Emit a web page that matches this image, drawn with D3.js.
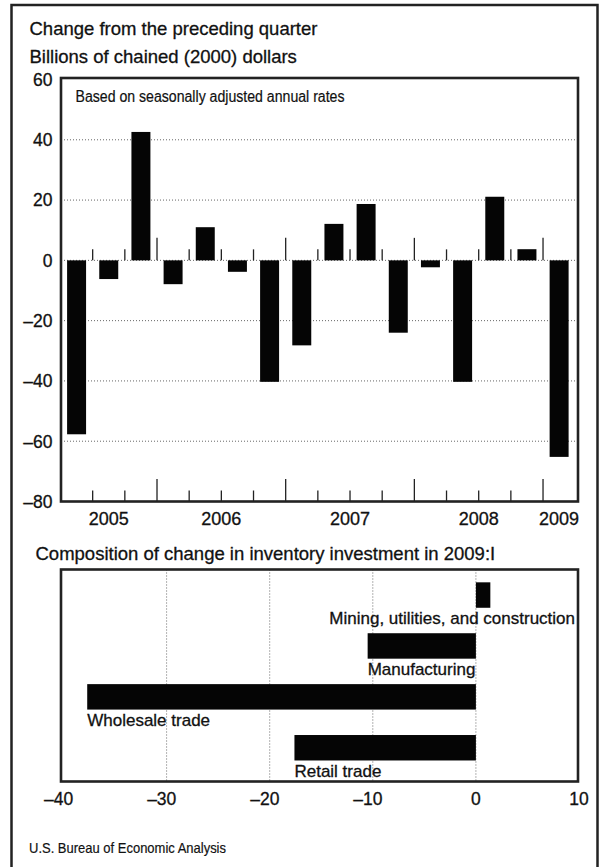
<!DOCTYPE html>
<html>
<head>
<meta charset="utf-8">
<script src="https://cdn.jsdelivr.net/npm/d3@7"></script>
<style>
  html, body { margin: 0; padding: 0; background: #fff; }
  svg { display: block; }
  text { font-family: "Liberation Sans", Arial, Helvetica, sans-serif; fill: #111; stroke: #111; stroke-width: 0.3px; }
  .narrow { font-family: "Liberation Sans Narrow", "Liberation Sans", Arial, sans-serif; stroke-width: 0.2px; }
</style>
</head>
<body>
<svg id="chart" width="600" height="867"></svg>
<script>
// ---------- data ----------
const quarters = ["2005:II","2005:III","2005:IV",
  "2006:I","2006:II","2006:III","2006:IV",
  "2007:I","2007:II","2007:III","2007:IV",
  "2008:I","2008:II","2008:III","2008:IV",
  "2009:I"];
const changes = [-57.7, -6.2, 42.6, -7.9, 11.0, -3.8, -40.3, -28.2,
  12.1, 18.7, -24.0, -2.3, -40.3, 21.1, 3.7, -65.2];
const yTicks = [60, 40, 20, 0, -20, -40, -60, -80];
const yGrid = [40, 20, 0, -20, -40, -60];

const components = ["Mining, utilities, and construction", "Manufacturing", "Wholesale trade", "Retail trade"];
const componentValues = [1.4, -10.5, -37.7, -17.6];
const xTicks = [-40, -30, -20, -10, 0, 10];
const xGrid = [-30, -20, -10, 0];

// ---------- setup ----------
const svg = d3.select("#chart");
const ink = "#050505";
const fmt = v => (v < 0 ? "\u2013" : "") + Math.abs(v);

// outer border
svg.append("rect").attr("x", 11.5).attr("y", 5).attr("width", 586).attr("height", 875)
  .attr("fill", "none").attr("stroke", "#222").attr("stroke-width", 2.5);

// titles
svg.append("text").attr("x", 29.5).attr("y", 35).style("font-size", "18.5px")
  .text("Change from the preceding quarter");
svg.append("text").attr("x", 29.5).attr("y", 63).style("font-size", "18.5px")
  .text("Billions of chained (2000) dollars");

// ---------- top chart ----------
const frameTop = { left: 61, right: 578 };
const y = d3.scaleLinear().domain([-80, 60]).range([501.5, 79.5]);
const x = d3.scaleBand().domain(quarters).range([60.5, 575.2])
  .paddingInner(0.41).paddingOuter(0.205);

const g1 = svg.append("g");

// gridlines
g1.selectAll("line.grid").data(yGrid).join("line")
  .attr("x1", frameTop.left).attr("x2", frameTop.right)
  .attr("y1", d => y(d)).attr("y2", d => y(d))
  .attr("stroke", "#666").attr("stroke-width", 1).attr("stroke-dasharray", "1,2");

// bars
g1.selectAll("rect.bar").data(changes).join("rect")
  .attr("x", (d, i) => x(quarters[i]))
  .attr("width", x.bandwidth())
  .attr("y", d => y(Math.max(0, d)))
  .attr("height", d => Math.abs(y(d) - y(0)))
  .attr("fill", ink);

// quarter boundary ticks
const boundaries = quarters.slice(1).map(q => ({
  x: x(q) - (x.step() - x.bandwidth()) / 2,
  tall: q.endsWith(":I")
}));
[y(-80), y(0)].forEach(base => {
  g1.selectAll(null).data(boundaries).join("line")
    .attr("x1", d => d.x).attr("x2", d => d.x)
    .attr("y1", base).attr("y2", d => base - (d.tall ? 22.5 : 11))
    .attr("stroke", "#222").attr("stroke-width", 1.3);
});

// frame
g1.append("rect").attr("x", frameTop.left).attr("y", y(60) - 1.5)
  .attr("width", frameTop.right - frameTop.left).attr("height", y(-80) - y(60) + 1.5)
  .attr("fill", "none").attr("stroke", "#222").attr("stroke-width", 2.6);

// y labels
g1.selectAll("text.ylab").data(yTicks).join("text")
  .attr("x", 52.5).attr("y", d => y(d)).attr("dy", "0.36em")
  .attr("text-anchor", "end").style("font-size", "17.5px")
  .text(fmt);

// year labels
const years = Array.from(new Set(quarters.map(q => q.split(":")[0])));
g1.selectAll("text.year").data(years).join("text")
  .attr("x", yr => d3.mean(quarters.filter(q => q.startsWith(yr)), q => x(q) + x.bandwidth() / 2))
  .attr("y", 525).attr("text-anchor", "middle").style("font-size", "18px")
  .text(d => d);

// note
g1.append("text").attr("class", "narrow").attr("x", 75.5).attr("y", 101.5)
  .style("font-size", "16px").attr("textLength", 269).attr("lengthAdjust", "spacingAndGlyphs")
  .text("Based on seasonally adjusted annual rates");

// ---------- bottom chart ----------
svg.append("text").attr("x", 35.5).attr("y", 560).style("font-size", "18.5px")
  .text("Composition of change in inventory investment in 2009:I");

const bot = { left: 61, right: 578, top: 569.5, bottom: 781.5 };
const xb = d3.scaleLinear().domain([-40, 10]).range([63.5, 579]);
const yb = d3.scaleBand().domain(components).range([569.6, 773.2])
  .paddingInner(0.5).paddingOuter(0.25);

const g2 = svg.append("g");

g2.selectAll("line.grid").data(xGrid).join("line")
  .attr("x1", d => xb(d)).attr("x2", d => xb(d))
  .attr("y1", bot.top).attr("y2", bot.bottom)
  .attr("stroke", "#666").attr("stroke-width", 1).attr("stroke-dasharray", "1,2");

g2.selectAll("rect.bar").data(componentValues).join("rect")
  .attr("x", d => xb(Math.min(0, d)))
  .attr("width", d => Math.abs(xb(d) - xb(0)))
  .attr("y", (d, i) => yb(components[i]))
  .attr("height", yb.bandwidth())
  .attr("fill", ink);

// category labels
g2.selectAll("text.cat").data(components).join("text")
  .style("font-size", "17px")
  .attr("y", c => yb(c) + yb.bandwidth() + 16.5)
  .text(c => c)
  .each(function (c, i) {
    const w = this.getComputedTextLength();
    const left = xb(Math.min(0, componentValues[i]));
    d3.select(this).attr("x", Math.min(left, bot.right - 3 - w));
  });

g2.append("rect").attr("x", bot.left).attr("y", bot.top)
  .attr("width", bot.right - bot.left).attr("height", bot.bottom - bot.top)
  .attr("fill", "none").attr("stroke", "#222").attr("stroke-width", 2.6);

// x labels: digits centered on tick, minus hanging left
g2.selectAll("text.xlab").data(xTicks).join("text")
  .style("font-size", "17.5px").attr("y", 805).attr("text-anchor", "end")
  .text(fmt)
  .each(function (d) {
    const digits = String(Math.abs(d)).length;
    d3.select(this).attr("x", xb(d) + digits * 0.556 * 17.5 / 2);
  });

// source
svg.append("text").attr("class", "narrow").attr("x", 29).attr("y", 853)
  .style("font-size", "15px").attr("textLength", 197).attr("lengthAdjust", "spacingAndGlyphs")
  .text("U.S. Bureau of Economic Analysis");
</script>
</body>
</html>
